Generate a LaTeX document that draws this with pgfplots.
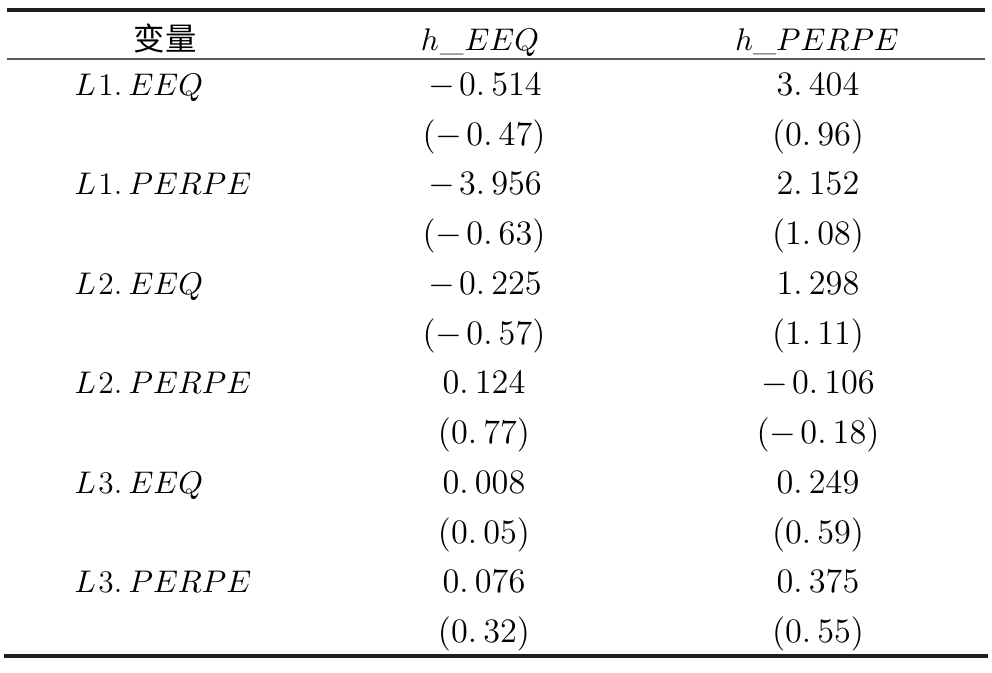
\documentclass[border=0pt]{standalone}
\usepackage{pgfplots}
\pgfplotsset{compat=1.18}
\usepackage{fontspec}
\newfontfamily\cjk{Noto Sans CJK SC}
\newcommand{\nm}[1]{{\addfontfeatures{LetterSpace=14}#1}}
\newcommand{\mn}{$-$\hspace{0.12em}}
\newcommand{\dt}{.\hspace{0.18em}}
\newcommand{\lab}[2]{{\fontsize{11}{13}\selectfont$L$\hspace{0.08em}#1.\hspace{0.2em}$#2$}}
\begin{document}
\begin{tikzpicture}
\begin{axis}[scale only axis, width=347.2pt, height=235.2pt,
  xmin=0, xmax=992, ymin=0, ymax=672, y dir=reverse,
  hide axis, clip=false, name=tab]
\addplot[line width=1.1pt, color=black!88, forget plot] coordinates {(7,10) (985,10)};
\addplot[line width=0.75pt, color=black!65, forget plot] coordinates {(7,59) (985,59)};
\addplot[line width=1.3pt, color=black!88, forget plot] coordinates {(4,656) (988,656)};
\begin{scope}[every node/.style={font=\fontsize{12}{14}\selectfont, inner sep=0pt}]
% header
\node[anchor=base] at (axis cs:165,50) {\fontsize{11}{13}\selectfont\cjk 变量};
\node[anchor=base] at (axis cs:480,50) {\fontsize{11.3}{13}\selectfont$h$\hspace{0.03em}\_\hspace{0.03em}$EEQ$};
\node[anchor=base] at (axis cs:817,50) {\fontsize{11}{13}\selectfont$h$\_$PERPE$};
% row labels
\node[anchor=base west] at (axis cs:74,95)  {\lab{1}{EEQ}};
\node[anchor=base west] at (axis cs:74,194) {\lab{1}{PERPE}};
\node[anchor=base west] at (axis cs:74,294) {\lab{2}{EEQ}};
\node[anchor=base west] at (axis cs:74,393) {\lab{2}{PERPE}};
\node[anchor=base west] at (axis cs:74,493) {\lab{3}{EEQ}};
\node[anchor=base west] at (axis cs:74,592) {\lab{3}{PERPE}};
% column h_EEQ
\node[anchor=base] at (axis cs:485,95)  {\mn\nm{0\dt 514}};
\node[anchor=base] at (axis cs:484,145) {\nm{(}\mn\nm{0\dt 47)}};
\node[anchor=base] at (axis cs:485,194) {\mn\nm{3\dt 956}};
\node[anchor=base] at (axis cs:484,244) {\nm{(}\mn\nm{0\dt 63)}};
\node[anchor=base] at (axis cs:485,294) {\mn\nm{0\dt 225}};
\node[anchor=base] at (axis cs:484,344) {\nm{(}\mn\nm{0\dt 57)}};
\node[anchor=base] at (axis cs:484,393) {\nm{0\dt 124}};
\node[anchor=base] at (axis cs:484,443) {\nm{(0\dt 77)}};
\node[anchor=base] at (axis cs:484,493) {\nm{0\dt 008}};
\node[anchor=base] at (axis cs:484,543) {\nm{(0\dt 05)}};
\node[anchor=base] at (axis cs:484,592) {\nm{0\dt 076}};
\node[anchor=base] at (axis cs:484,642) {\nm{(0\dt 32)}};
% column h_PERPE
\node[anchor=base] at (axis cs:818,95)  {\nm{3\dt 404}};
\node[anchor=base] at (axis cs:818,145) {\nm{(0\dt 96)}};
\node[anchor=base] at (axis cs:818,194) {\nm{2\dt 152}};
\node[anchor=base] at (axis cs:818,244) {\nm{(1\dt 08)}};
\node[anchor=base] at (axis cs:818,294) {\nm{1\dt 298}};
\node[anchor=base] at (axis cs:818,344) {\nm{(1\dt 11)}};
\node[anchor=base] at (axis cs:818,393) {\mn\nm{0\dt 106}};
\node[anchor=base] at (axis cs:818,443) {\nm{(}\mn\nm{0\dt 18)}};
\node[anchor=base] at (axis cs:818,493) {\nm{0\dt 249}};
\node[anchor=base] at (axis cs:818,543) {\nm{(0\dt 59)}};
\node[anchor=base] at (axis cs:818,592) {\nm{0\dt 375}};
\node[anchor=base] at (axis cs:818,642) {\nm{(0\dt 55)}};
\end{scope}
\end{axis}
\pgfresetboundingbox
\useasboundingbox (tab.south west) rectangle (tab.north east);
\end{tikzpicture}
\end{document}
